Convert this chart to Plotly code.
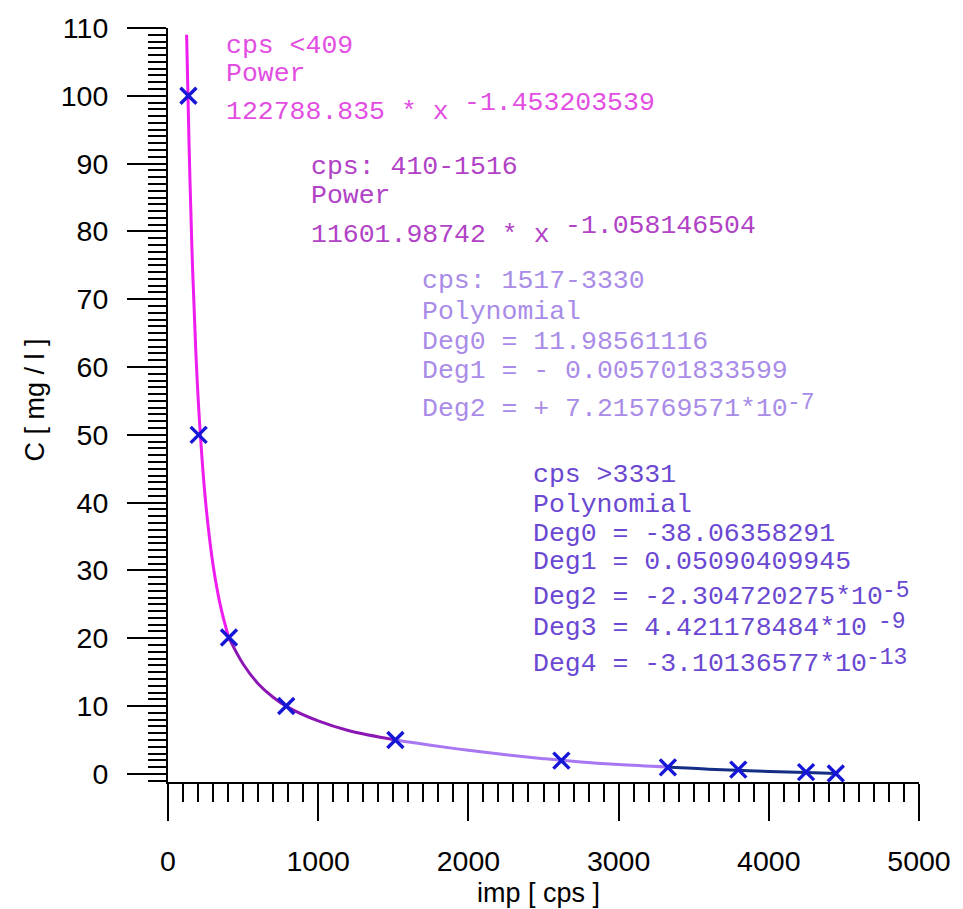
import plotly.graph_objects as go

# ---------------- data ----------------
pts_x = [136, 204, 406, 787, 1514, 2619, 3328, 3797, 4248, 4446]
pts_y = [100, 50, 20.1, 10, 5, 1.95, 0.95, 0.63, 0.25, 0.05]

seg1_x = [124, 140, 160, 185, 210, 250, 300, 350, 409]
seg1_y = [109, 93, 77, 62.4, 51.9, 40.2, 30.8, 24.7, 19.7]

seg2_x = [409, 500, 600, 700, 800, 1000, 1200, 1516]
seg2_y = [19.9, 16.2, 13.3, 11.3, 9.8, 7.8, 6.4, 5.0]

seg3_x = [1516, 1750, 2000, 2250, 2500, 2750, 3000, 3330]
seg3_y = [5.0, 4.22, 3.47, 2.81, 2.24, 1.76, 1.37, 1.0]

seg4_x = [3330, 3600, 3800, 4000, 4250, 4450]
seg4_y = [1.0, 0.68, 0.52, 0.36, 0.21, 0.05]

x_ticks = [0, 1000, 2000, 3000, 4000, 5000]
y_ticks = [0, 10, 20, 30, 40, 50, 60, 70, 80, 90, 100, 110]

blocks = [
    # (color, x_left_px, exponent font size, [(text, baseline_px, exponent, exp_x_shift)])
    ("#e24ee2", 225, 26.5, [("cps <409", 52, None, 0),
                            ("Power", 80, None, 0),
                            ("122788.835 * x ", 118, "-1.453203539", 0)]),
    ("#b142c6", 311, 26.5, [("cps: 410-1516", 173, None, 0),
                            ("Power", 202, None, 0),
                            ("11601.98742 * x ", 242, "-1.058146504", 0)]),
    ("#a98ce8", 423, 23, [("cps: 1517-3330", 288, None, 0),
                          ("Polynomial", 319, None, 0),
                          ("Deg0 = 11.98561116", 349, None, 0),
                          ("Deg1 = - 0.005701833599", 378, None, 0),
                          ("Deg2 = + 7.215769571*10", 416, "-7", 0)]),
    ("#6a48d2", 535, 23, [("cps >3331", 483, None, 0),
                          ("Polynomial", 513, None, 0),
                          ("Deg0 = -38.06358291", 542, None, 0),
                          ("Deg1 = 0.05090409945", 570, None, 0),
                          ("Deg2 = -2.304720275*10", 605, "-5", 0),
                          ("Deg3 = 4.421178484*10", 636, "-9", 12),
                          ("Deg4 = -3.10136577*10", 672, "-13", 0)]),
]

# ---------------- layout constants ----------------
W, H = 963, 909
ML, MR, MT, MB = 168, 38, 25, 127
X0, X1 = ML, W - MR
Y0, Y1 = MT, H - MB
ANN_FS = 26.5
CHAR_W = ANN_FS * 0.6
MONO = "Liberation Mono, Courier New, monospace"
SANS = "Liberation Sans, Arial, sans-serif"


def px(xp):
    return (xp - X0) / (X1 - X0)


def py(yp):
    return (Y1 - yp) / (Y1 - Y0)


fig = go.Figure()

seg_colors = ["#ee1cee", "#8c16b4", "#a778f2", "#142e86"]
for sx, sy, c in zip([seg1_x, seg2_x, seg3_x, seg4_x],
                     [seg1_y, seg2_y, seg3_y, seg4_y], seg_colors):
    fig.add_trace(go.Scatter(x=sx, y=sy, mode="lines",
                             line=dict(color=c, width=3, shape="spline", smoothing=1.0),
                             hoverinfo="skip", showlegend=False))

fig.add_trace(go.Scatter(x=pts_x, y=pts_y, mode="markers",
                         marker=dict(symbol="x-thin", size=16,
                                     line=dict(color="#1616d6", width=3.4)),
                         showlegend=False))

annotations = []
for color, xl, efs, lines in blocks:
    for text, base, expo, shift in lines:
        annotations.append(dict(
            x=px(xl), y=py(base - 0.33 * ANN_FS), xref="paper", yref="paper",
            text=text, showarrow=False, xanchor="left", yanchor="middle",
            borderpad=0,
            font=dict(family=MONO, size=ANN_FS, color=color)))
        if expo:
            ex = xl + len(text) * CHAR_W + 2 + shift
            raise_px = 9 if efs >= ANN_FS else 7
            annotations.append(dict(
                x=px(ex), y=py(base - raise_px - 0.33 * efs), xref="paper", yref="paper",
                text=expo, showarrow=False, xanchor="left", yanchor="middle",
                borderpad=0,
                font=dict(family=MONO, size=efs, color=color)))

annotations.append(dict(x=px(541), y=py(893), xref="paper", yref="paper",
                        text="imp [ cps ]", showarrow=False,
                        xanchor="center", yanchor="middle",
                        font=dict(family=SANS, size=27, color="black")))
annotations.append(dict(x=px(33), y=py(399), xref="paper", yref="paper",
                        text="C [ mg / l ]", showarrow=False, textangle=-90,
                        xanchor="center", yanchor="middle",
                        font=dict(family=SANS, size=27, color="black")))

fig.update_layout(
    width=W, height=H,
    margin=dict(l=ML, r=MR, t=MT, b=MB, pad=0),
    paper_bgcolor="white", plot_bgcolor="white",
    showlegend=False,
    annotations=annotations,
    xaxis=dict(range=[0, 5000], tickvals=x_ticks, ticks="outside", ticklen=37,
               tickwidth=2, tickcolor="black", showline=True, linecolor="black",
               linewidth=2, showgrid=False, zeroline=False,
               tickfont=dict(family=SANS, size=28.5, color="black"),
               ticklabelstandoff=16,
               minor=dict(dtick=100, tick0=0, ticks="outside", ticklen=18,
                          tickwidth=2, tickcolor="black", showgrid=False)),
    yaxis=dict(range=[-1.2, 110], tickvals=y_ticks, ticks="outside", ticklen=39,
               tickwidth=2, tickcolor="black", showline=True, linecolor="black",
               linewidth=2, showgrid=False, zeroline=False,
               tickfont=dict(family=SANS, size=28.5, color="black"),
               ticklabelstandoff=13,
               minor=dict(dtick=1, tick0=0, ticks="outside", ticklen=18,
                          tickwidth=2, tickcolor="black", showgrid=False)),
)

fig.write_html("out.html")
